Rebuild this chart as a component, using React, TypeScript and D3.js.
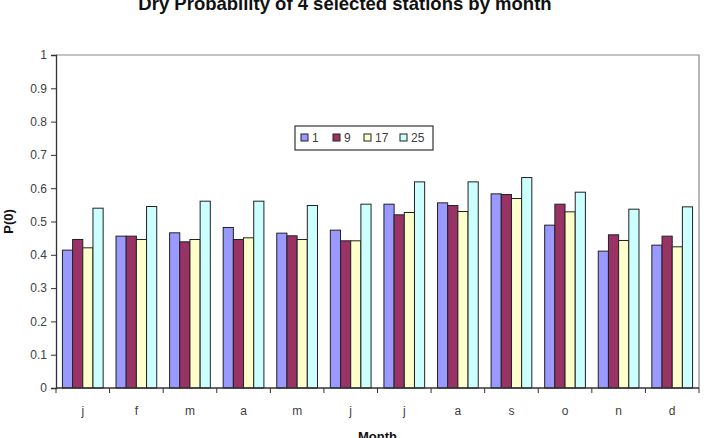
import React, { useRef, useEffect } from "react";
import * as d3 from "d3";

const months = ["j", "f", "m", "a", "m", "j", "j", "a", "s", "o", "n", "d"];
const stations = ["1", "9", "17", "25"];
const colors = ["#9999ff", "#993366", "#ffffcc", "#ccffff"];

const station1 = [0.414, 0.456, 0.466, 0.482, 0.465, 0.474, 0.552, 0.556, 0.583, 0.489, 0.411, 0.429];
const station9 = [0.446, 0.456, 0.439, 0.446, 0.457, 0.442, 0.520, 0.548, 0.581, 0.552, 0.460, 0.456];
const station17 = [0.421, 0.446, 0.446, 0.451, 0.446, 0.442, 0.527, 0.530, 0.569, 0.529, 0.443, 0.424];
const station25 = [0.540, 0.545, 0.561, 0.561, 0.548, 0.552, 0.619, 0.619, 0.632, 0.588, 0.537, 0.544];

const yTicks = [0, 0.1, 0.2, 0.3, 0.4, 0.5, 0.6, 0.7, 0.8, 0.9, 1];

const width = 708;
const height = 438;
const margin = { top: 55, right: 9, bottom: 50, left: 56 };

const App = () => {
    const plot = useRef(null);

    useEffect(() => {
        const svg = d3.select(plot.current);
        svg.selectAll("*").remove();

        const plotWidth = width - margin.left - margin.right;
        const plotHeight = height - margin.top - margin.bottom;
        const series = [station1, station9, station17, station25];
        const font = "Liberation Sans, Arial, sans-serif";
        const textColor = "#404040";

        const x = d3.scaleBand().domain(d3.range(months.length)).range([0, plotWidth]);
        const gap = x.bandwidth() * 0.24;
        const xInner = d3.scaleBand()
                        .domain(d3.range(stations.length))
                        .range([gap / 2, x.bandwidth() - gap / 2]);
        const y = d3.scaleLinear().domain([0, 1]).range([plotHeight, 0]);

        const g = svg.append("g")
                .attr("transform", `translate(${margin.left}, ${margin.top})`);

        // plot area frame (top and right)
        g.append("path")
                .attr("d", `M0,0H${plotWidth}V${plotHeight}`)
                .attr("fill", "none")
                .attr("stroke", "#8a8a8a")
                .attr("stroke-width", 1.2);

        // bars
        series.forEach((vals, si) => {
            g.append("g")
                .selectAll("rect")
                .data(vals)
                .join("rect")
                .attr("x", (d, i) => x(i) + xInner(si))
                .attr("y", d => y(d))
                .attr("width", xInner.bandwidth())
                .attr("height", d => plotHeight - y(d))
                .attr("fill", colors[si])
                .attr("stroke", "#222")
                .attr("stroke-width", 1);
        });

        // y axis
        const yAxis = d3.axisLeft(y).tickValues(yTicks).tickSize(5).tickPadding(4)
                        .tickFormat(d => d3.format("")(d));
        g.append("g")
                .call(yAxis)
                .call(ax => ax.select(".domain").attr("stroke", "#333").attr("stroke-width", 1.3))
                .call(ax => ax.selectAll(".tick line").attr("stroke", "#333"))
                .call(ax => ax.selectAll(".tick text")
                    .attr("font-family", font).attr("font-size", 12).attr("fill", textColor));

        // x axis: ticks between categories
        const bounds = d3.range(months.length + 1).map(i => i * x.step());
        const xa = g.append("g").attr("transform", `translate(0, ${plotHeight})`);
        xa.append("line")
                .attr("x1", 0).attr("x2", plotWidth)
                .attr("stroke", "#333").attr("stroke-width", 1.3);
        xa.selectAll(".tk")
                .data(bounds)
                .join("line")
                .attr("x1", d => d).attr("x2", d => d)
                .attr("y1", 0).attr("y2", 5)
                .attr("stroke", "#333");
        xa.selectAll(".lbl")
                .data(months)
                .join("text")
                .attr("x", (d, i) => x(i) + x.bandwidth() / 2)
                .attr("y", 27)
                .attr("text-anchor", "middle")
                .attr("font-family", font)
                .attr("font-size", 12)
                .attr("fill", textColor)
                .text(d => d);

        // titles
        svg.append("text")
                .attr("x", 345).attr("y", 10)
                .attr("text-anchor", "middle")
                .attr("font-family", font).attr("font-weight", "bold").attr("font-size", 18.5)
                .attr("fill", "#111")
                .text("Dry Probability of 4 selected stations by month");
        svg.append("text")
                .attr("x", margin.left + plotWidth / 2).attr("y", 441)
                .attr("text-anchor", "middle")
                .attr("font-family", font).attr("font-weight", "bold").attr("font-size", 13)
                .attr("fill", "#111")
                .text("Month");
        svg.append("text")
                .attr("transform", `translate(13, ${margin.top + plotHeight / 2}) rotate(-90)`)
                .attr("text-anchor", "middle")
                .attr("font-family", font).attr("font-weight", "bold").attr("font-size", 13)
                .attr("fill", "#111")
                .text("P(0)");

        // legend
        const lg = svg.append("g").attr("transform", "translate(295, 126)");
        lg.append("rect")
                .attr("width", 138).attr("height", 24)
                .attr("fill", "#fff").attr("stroke", "#333").attr("stroke-width", 1.2);
        const offsets = [6, 38, 69, 105];
        stations.forEach((s, i) => {
            lg.append("rect")
                .attr("x", offsets[i]).attr("y", 8)
                .attr("width", 7).attr("height", 7)
                .attr("fill", colors[i]).attr("stroke", "#222");
            lg.append("text")
                .attr("x", offsets[i] + 11).attr("y", 16)
                .attr("font-family", font).attr("font-size", 12).attr("fill", textColor)
                .text(s);
        });
    }, []);

    return (
        <svg ref={plot} width={width} height={height}
            style={{ position: "absolute", left: 0, top: 0, background: "#fff" }} />
    );
};

export default App;
